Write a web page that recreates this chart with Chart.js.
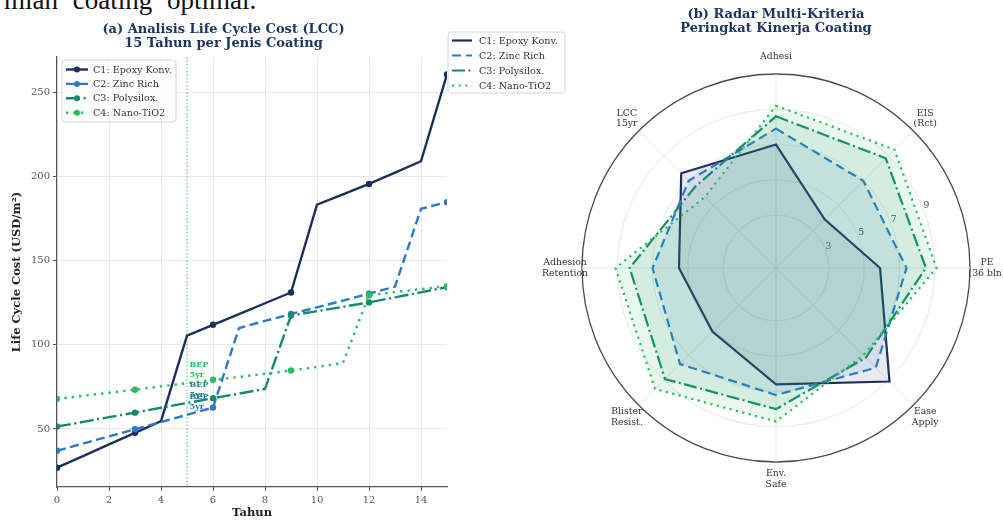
<!DOCTYPE html>
<html>
<head>
<meta charset="utf-8">
<script src="https://cdn.jsdelivr.net/npm/chart.js@4.4.0/dist/chart.umd.min.js"></script>
<style>
  html, body { margin: 0; padding: 0; background: #fff; }
  body { width: 1003px; height: 520px; overflow: hidden; position: relative; }
  #lead { position: absolute; left: 4px; top: -13px; font: 27px/27px "Liberation Serif", serif; word-spacing: 8px; color: #111; white-space: nowrap; }
  #lcc { position: absolute; left: 0; top: 0; }
  #radar { position: absolute; left: 445px; top: 0; }
</style>
</head>
<body>
<div id="lead">mian coating optimal.</div>
<canvas id="lcc" width="455" height="520"></canvas>
<canvas id="radar" width="558" height="520"></canvas>
<script>
// ---- data ---------------------------------------------------------------
const years = [0, 1, 2, 3, 4, 5, 6, 7, 8, 9, 10, 11, 12, 13, 14, 15];
const coatingNames = ["C1: Epoxy Konv.", "C2: Zinc Rich", "C3: Polysilox.", "C4: Nano-TiO2"];

// cumulative life cycle cost, USD/m2
const lccEpoxy   = [27, 33.9, 40.8, 47.7, 54.6, 105.5, 111.9, 118.3, 124.7, 131.1, 183.3, 189.4, 195.6, 202.3, 209.1, 260.7];
const lccZinc    = [37.1, 41.3, 45.6, 49.8, 54.1, 58.4, 62.7, 110, 114.2, 118.3, 122.3, 126.3, 130.4, 134.6, 180.8, 184.8];
const lccPolysil = [51.4, 54.2, 57, 59.7, 62.6, 65.4, 68.3, 71, 73.8, 117.4, 120, 122.6, 125.2, 128.2, 131.2, 134.3];
const lccNanoTi  = [67.8, 69.7, 71.5, 73.3, 75.3, 77.2, 79.2, 80.9, 82.8, 84.7, 86.8, 89.2, 129.5, 131.3, 133.1, 134.9];

const lccTicksX = [0, 2, 4, 6, 8, 10, 12, 14];
const lccTicksY = [50, 100, 150, 200, 250];
const bepYear = 5;
const bepText = ["BEP", "5yr"];

// multi-criteria scores (0-10 scale)
const criteria = [["Adhesi"], ["EIS", "(Rct)"], ["PE", "(36 bln)"], ["Ease", "Apply"],
                  ["Env.", "Safe"], ["Blister", "Resist."], ["Adhesion", "Retention"], ["LCC", "15yr"]];
const scoreEpoxy   = [7.0, 3.9, 5.9, 9.1, 6.6, 5.1, 5.5, 7.6];
const scoreZinc    = [7.9, 7.0, 7.4, 8.0, 7.2, 7.7, 7.0, 7.0];
const scorePolysil = [8.6, 8.8, 8.5, 7.2, 8.0, 8.9, 8.3, 6.5];
const scoreNanoTi  = [9.2, 9.5, 9.1, 7.0, 8.7, 9.7, 9.1, 5.7];
const radarTicks = [3, 5, 7, 9];
const radarMax = 11;

// ---- styling ------------------------------------------------------------
const SERIF = '"DejaVu Serif", "Liberation Serif", serif';
const TITLE_NAVY = '#1f3461';
const palette = ['#1c2e5c', '#2e78c8', '#178a6e', '#2cbd5f'];
const lineDash = [[], [9, 4.5], [14, 3.5, 2.2, 3.5], [2.4, 5]];
const radarDash = [[], [9, 5], [13, 3.5, 2, 3.5], [2.2, 4.4]];

function hexA(hex, a) {
  const n = parseInt(hex.slice(1), 16);
  return `rgba(${(n >> 16) & 255},${(n >> 8) & 255},${n & 255},${a})`;
}

// legend box drawn from the chart's own datasets
function drawLegend(chart, box) {
  const ctx = chart.ctx;
  ctx.save();
  ctx.beginPath();
  ctx.roundRect(box.x, box.y, box.w, box.h, 3);
  ctx.fillStyle = 'rgba(255,255,255,0.85)';
  ctx.fill();
  ctx.strokeStyle = '#d4d4d4';
  ctx.lineWidth = 1;
  ctx.stroke();
  ctx.font = `9.6px ${SERIF}`;
  ctx.textBaseline = 'middle';
  ctx.textAlign = 'left';
  chart.data.datasets.forEach((ds, i) => {
    const cy = box.y + box.first + i * box.row;
    const x0 = box.x + box.sx;
    ctx.strokeStyle = ds.borderColor;
    ctx.lineWidth = ds.borderWidth;
    ctx.setLineDash(ds.borderDash || []);
    ctx.beginPath();
    ctx.moveTo(x0, cy);
    ctx.lineTo(x0 + box.sw, cy);
    ctx.stroke();
    ctx.setLineDash([]);
    if (box.markers) {
      ctx.fillStyle = ds.borderColor;
      ctx.beginPath();
      ctx.arc(x0 + box.sw / 2, cy, 3, 0, Math.PI * 2);
      ctx.fill();
    }
    ctx.fillStyle = '#333';
    ctx.fillText(ds.label, x0 + box.sw + box.gap, cy + 0.5);
  });
  ctx.restore();
}

// ---- (a) life cycle cost lines ------------------------------------------
const lccSeries = [lccEpoxy, lccZinc, lccPolysil, lccNanoTi];

const lccExtras = {
  id: 'lccExtras',
  beforeDatasetsDraw(chart) {
    const {ctx, chartArea, scales} = chart;
    const x = scales.x.getPixelForValue(bepYear);
    ctx.save();
    ctx.strokeStyle = '#3fbf86';
    ctx.lineWidth = 1;
    ctx.setLineDash([1.5, 2]);
    ctx.beginPath();
    ctx.moveTo(x, chartArea.top);
    ctx.lineTo(x, chartArea.bottom);
    ctx.stroke();
    ctx.restore();
  },
  afterDatasetsDraw(chart) {
    const {ctx, scales} = chart;
    ctx.save();
    ctx.font = `bold 8px ${SERIF}`;
    ctx.textAlign = 'left';
    ctx.textBaseline = 'bottom';
    [1, 2, 3].forEach(i => {
      const ds = chart.data.datasets[i];
      const v = ds.data[years.indexOf(bepYear)].y;
      const x = scales.x.getPixelForValue(bepYear + 0.1);
      const y = scales.y.getPixelForValue(v) - 4;
      ctx.fillStyle = ds.borderColor;
      ctx.fillText(bepText[1], x, y);
      ctx.fillText(bepText[0], x, y - 10);
    });
    ctx.restore();
  },
  afterDraw(chart) {
    drawLegend(chart, {x: 62, y: 60, w: 114, h: 62, first: 9.5, row: 14.4, sx: 4, sw: 22, gap: 5, markers: true});
  }
};

new Chart(document.getElementById('lcc'), {
  type: 'line',
  data: {
    datasets: lccSeries.map((vals, i) => ({
      label: coatingNames[i],
      data: years.map((x, k) => ({x, y: vals[k]})),
      borderColor: palette[i],
      backgroundColor: palette[i],
      pointBackgroundColor: palette[i],
      pointBorderColor: palette[i],
      pointBorderWidth: 0,
      borderWidth: 2.4,
      borderDash: lineDash[i],
      pointRadius: ctx => (ctx.dataIndex % 3 === 0 ? 3.2 : 0),
      pointHoverRadius: 0,
      tension: 0,
      fill: false,
      order: 3 - i
    }))
  },
  options: {
    responsive: false,
    animation: false,
    layout: {padding: {left: 0, right: 8, top: 0, bottom: 0}},
    plugins: {
      legend: {display: false},
      tooltip: {enabled: false},
      title: {
        display: true,
        text: ['(a) Analisis Life Cycle Cost (LCC)', '15 Tahun per Jenis Coating'],
        color: TITLE_NAVY,
        font: {family: SERIF, size: 13, weight: 'bold', lineHeight: 1.08},
        padding: {top: 23, bottom: 6}
      }
    },
    scales: {
      x: {
        type: 'linear', min: 0, max: 15,
        afterBuildTicks: s => { s.ticks = lccTicksX.map(v => ({value: v})); },
        afterFit: s => { s.height = 33; },
        grid: {color: '#e9e9e9', lineWidth: 1, drawTicks: true, tickLength: 4, tickColor: '#555', tickWidth: 1},
        border: {display: true, color: '#555', width: 1.2},
        ticks: {color: '#555', font: {family: SERIF, size: 10}, padding: 3, maxRotation: 0, autoSkip: false},
        title: {display: true, text: 'Tahun', color: '#222', font: {family: SERIF, size: 11.5, weight: 'bold'}, padding: {top: 4, bottom: 0}}
      },
      y: {
        type: 'linear', min: 15.5, max: 271,
        afterBuildTicks: s => { s.ticks = lccTicksY.map(v => ({value: v})); },
        afterFit: s => { s.width = 57; },
        grid: {color: '#e9e9e9', lineWidth: 1, drawTicks: true, tickLength: 4, tickColor: '#555', tickWidth: 1},
        border: {display: true, color: '#555', width: 1.2},
        ticks: {color: '#555', font: {family: SERIF, size: 10}, padding: 3, autoSkip: false},
        title: {display: true, text: 'Life Cycle Cost (USD/m²)', color: '#222', font: {family: SERIF, size: 11.5, weight: 'bold'}, padding: {top: 10, bottom: 0}}
      }
    }
  },
  plugins: [lccExtras]
});

// ---- (b) multi-criteria radar -------------------------------------------
const radarSeries = [scoreEpoxy, scoreZinc, scorePolysil, scoreNanoTi];

const radarExtras = {
  id: 'radarExtras',
  afterDraw(chart) {
    const ctx = chart.ctx;
    const r = chart.scales.r;
    ctx.save();
    // criterion names around the rim
    ctx.font = `9.3px ${SERIF}`;
    ctx.fillStyle = '#333';
    ctx.textAlign = 'center';
    ctx.textBaseline = 'middle';
    const lh = 10.5;
    criteria.forEach((lines, i) => {
      const p = r.getPointPosition(i, r.drawingArea + 17);
      const y0 = p.y - (lines.length - 1) * lh / 2;
      lines.forEach((t, k) => ctx.fillText(t, p.x, y0 + k * lh));
    });
    // radial tick values, between the EIS and PE spokes
    ctx.fillStyle = '#555';
    radarTicks.forEach(v => {
      const p = r.getPointPosition(1.5, r.getDistanceFromCenterForValue(v) + 4);
      ctx.fillText(String(v), p.x, p.y);
    });
    ctx.restore();
    drawLegend(chart, {x: 3, y: 32, w: 117, h: 61, first: 8.5, row: 15, sx: 4, sw: 20, gap: 7, markers: false});
  }
};

new Chart(document.getElementById('radar'), {
  type: 'radar',
  data: {
    labels: criteria,
    datasets: radarSeries.map((vals, i) => ({
      label: coatingNames[i],
      data: vals,
      borderColor: palette[i],
      backgroundColor: hexA(palette[i], 0.1),
      borderWidth: 2.2,
      borderDash: radarDash[i],
      pointRadius: 0,
      pointHoverRadius: 0,
      fill: true,
      tension: 0,
      order: 3 - i
    }))
  },
  options: {
    responsive: false,
    animation: false,
    layout: {padding: {left: 137, right: 33, top: 0, bottom: 57}},
    plugins: {
      legend: {display: false},
      tooltip: {enabled: false},
      title: {
        display: true,
        text: ['(b) Radar Multi-Kriteria', 'Peringkat Kinerja Coating'],
        color: TITLE_NAVY,
        font: {family: SERIF, size: 13, weight: 'bold', lineHeight: 1.08},
        padding: {top: 8, bottom: 38.9}
      }
    },
    scales: {
      r: {
        min: 0, max: radarMax,
        afterBuildTicks: s => { s.ticks = [0, ...radarTicks, radarMax].map(v => ({value: v})); },
        ticks: {display: false},
        pointLabels: {display: false},
        grid: {
          circular: true,
          color: ctx => (ctx.tick && ctx.tick.value === radarMax ? '#4a4a4a' : '#e3e3e3'),
          lineWidth: ctx => (ctx.tick && ctx.tick.value === radarMax ? 1.3 : 0.9)
        },
        angleLines: {display: true, color: '#e3e3e3', lineWidth: 0.9}
      }
    }
  },
  plugins: [radarExtras]
});
</script>
</body>
</html>
